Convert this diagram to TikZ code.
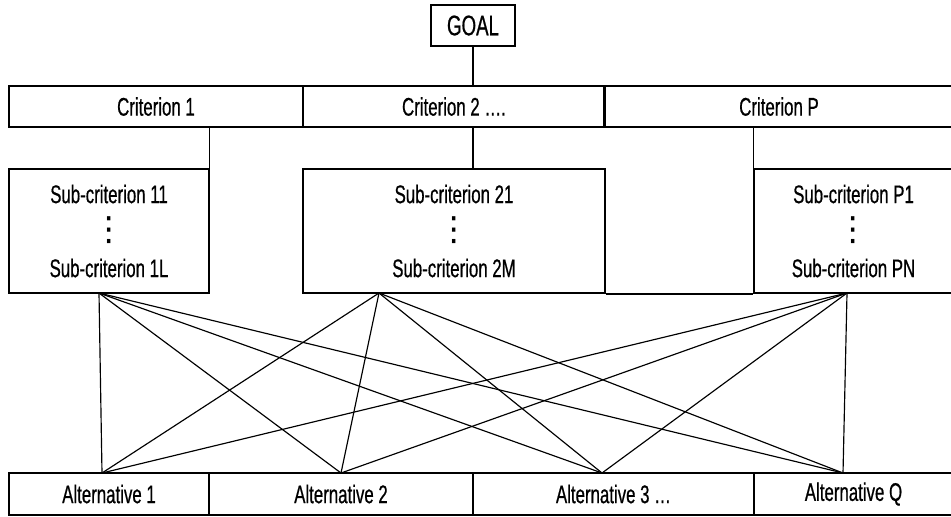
\documentclass[tikz,border=0pt]{standalone}
\usepackage{fontspec}
\setmainfont{Liberation Sans}[FakeStretch=0.66, FakeBold=0.6]
\newfontfamily\dotsfont{DejaVu Sans}
\usepackage{tikz}
\usetikzlibrary{positioning,calc}

% points de suspension verticaux
\newcommand{\vdotsub}{{\dotsfont\fontsize{20}{20}\selectfont ⋮}}

\begin{document}
\begin{tikzpicture}[x=0.6pt, y=-0.6pt,
    box/.style={draw, line width=0.9pt, inner sep=0pt, align=center,
        font=\fontsize{15.3}{22.2}\selectfont},
    link/.style={line width=0.7pt}]

    % Dimensions (en pixels de l'image)
    \def\px{0.6pt}
    \def\critY{106.5}
    \def\subY{231}
    \def\altY{494}

    \useasboundingbox (0,0) rectangle (951,516);

    % =========================================================================
    % OBJECTIF
    % =========================================================================
    \node[box, font=\fontsize{17}{20}\selectfont, minimum width=84*\px, minimum height=41*\px]
        (goal) at (473, 25.5) {GOAL};

    % =========================================================================
    % CRITERES
    % =========================================================================
    \node[box, minimum width=294*\px, minimum height=41*\px] (crit1) at (156, \critY) {Criterion 1};
    \node[box, minimum width=302*\px, minimum height=41*\px] (crit2) at (454, \critY) {Criterion 2 ….};
    \node[box, minimum width=350*\px, minimum height=41*\px] (crit3) at (779, \critY) {Criterion P};

    \draw[link] (goal.south) -- (goal.south |- crit2.north);

    % =========================================================================
    % SOUS-CRITERES
    % =========================================================================
    \node[box, minimum width=200*\px, minimum height=124*\px] (sub1) at (109, \subY)
        {Sub-criterion 11\\\vdotsub\\Sub-criterion 1L};
    \node[box, minimum width=302*\px, minimum height=124*\px] (sub2) at (454, \subY)
        {Sub-criterion 21\\\vdotsub\\Sub-criterion 2M};
    \node[box, minimum width=199*\px, minimum height=124*\px] (sub3) at (853.5, \subY)
        {Sub-criterion P1\\\vdotsub\\Sub-criterion PN};

    \draw[link] (sub1.north east) -- (sub1.north east |- crit1.south);
    \draw[link] (goal.south |- crit2.south) -- (goal.south |- sub2.north);
    \draw[link] (sub3.north west) -- (sub3.north west |- crit3.south);
    \draw[line width=0.9pt] (sub2.south east) -- (sub3.south west);

    % =========================================================================
    % ALTERNATIVES
    % =========================================================================
    \node[box, minimum width=200*\px, minimum height=42*\px] (alt1) at (109, \altY) {Alternative 1};
    \node[box, minimum width=264*\px, minimum height=42*\px] (alt2) at (341, \altY) {Alternative 2};
    \node[box, minimum width=281*\px, minimum height=42*\px] (alt3) at (613.5, \altY) {Alternative 3 …};
    \node[box, minimum width=199*\px, minimum height=42*\px] (alt4) at (853.5, \altY) {Alternative Q};

    % Points d'attache
    \coordinate (s1) at (99, 293);
    \coordinate (s2) at (379, 293);
    \coordinate (s3) at (847, 293);
    \coordinate (a1) at (102, 473);
    \coordinate (a2) at (341, 473);
    \coordinate (a3) at (602, 473);
    \coordinate (a4) at (843, 473);

    % Liaisons sous-criteres -> alternatives
    \foreach \s in {s1,s2,s3}
        \foreach \a in {a1,a2,a3,a4}
            \draw[link] (\s) -- (\a);
\end{tikzpicture}
\end{document}
